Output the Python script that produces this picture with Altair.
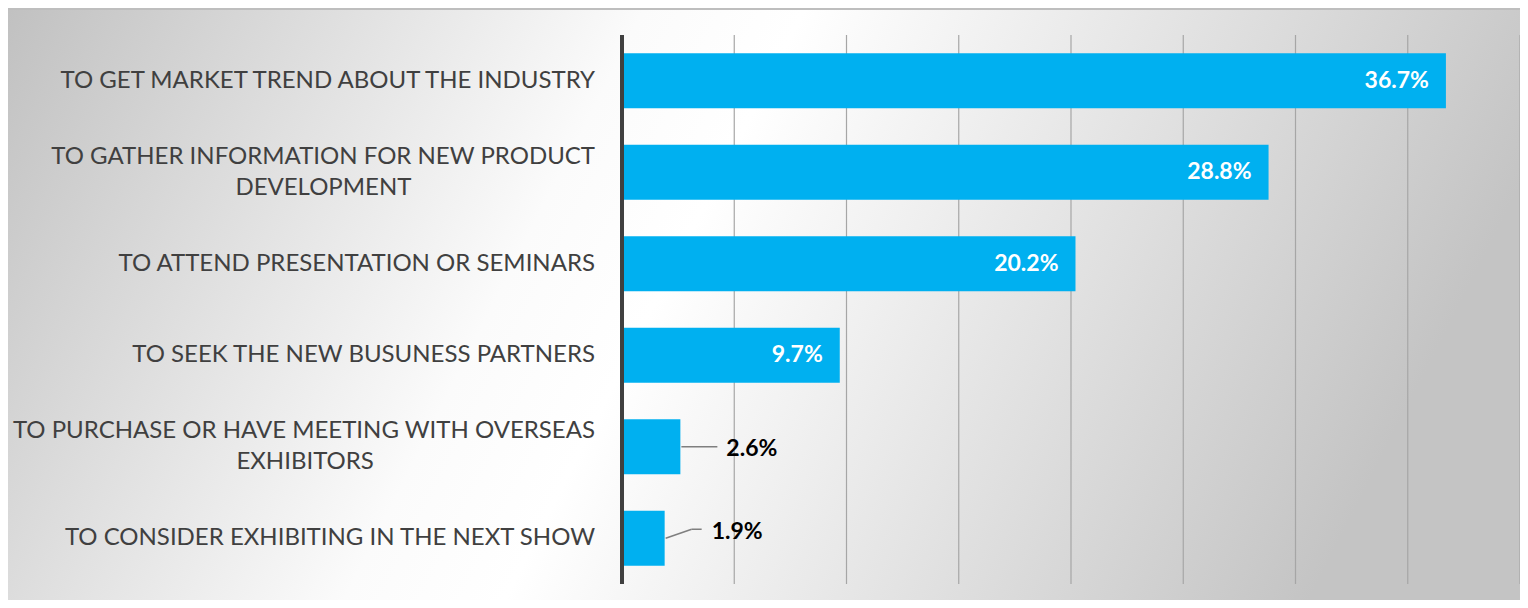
import altair as alt
import pandas as pd

NB = "\u00a0"
ZW = "\u200b"
# category labels, "|" marks a line break (second lines padded so they sit centred)
categories = [
    "TO GET MARKET TREND ABOUT THE INDUSTRY",
    "TO GATHER INFORMATION FOR NEW PRODUCT|DEVELOPMENT" + NB * 30 + ZW,
    "TO ATTEND PRESENTATION OR SEMINARS",
    "TO SEEK THE NEW BUSUNESS PARTNERS",
    "TO PURCHASE OR HAVE MEETING WITH OVERSEAS|EXHIBITORS" + NB * 36 + ZW,
    "TO CONSIDER EXHIBITING IN THE NEXT SHOW",
]
values = [36.7, 28.8, 20.2, 9.7, 2.6, 1.9]
grid_ticks = [5, 10, 15, 20, 25, 30, 35, 40]

df = pd.DataFrame({"category": categories, "value": values})
df["text"] = df["value"].map(lambda v: f"{v:.1f}%")
grid_df = pd.DataFrame({"tick": grid_ticks})

W, H = 898, 549
FONT = "Lato"
BLUE = "#00b0f0"

xscale = alt.Scale(domain=[0, 40], nice=False, zero=True)
yscale = alt.Scale(domain=categories, paddingInner=0.4, paddingOuter=0.2)
Y = alt.Y("category:N", scale=yscale, axis=None)

bg = alt.Chart(grid_df).mark_rect(
    color=alt.LinearGradient(
        gradient="linear",
        stops=[
            alt.GradientStop(color="#c0c0c0", offset=0),
            alt.GradientStop(color="#fbfbfb", offset=0.4),
            alt.GradientStop(color="#ffffff", offset=0.5),
            alt.GradientStop(color="#f0f0f0", offset=0.63),
            alt.GradientStop(color="#c4c4c4", offset=1),
        ],
        x1=0, x2=1, y1=0, y2=0.2,
    )
).encode(
    x=alt.value(-620), x2=alt.value(W + 30), y=alt.value(-30), y2=alt.value(H + 30)
)

topband = alt.Chart(grid_df).mark_rect(color="#bebebe").encode(
    x=alt.value(-620), x2=alt.value(W + 30), y=alt.value(-30), y2=alt.value(-25)
)

grid = alt.Chart(grid_df).mark_rule(color="#a6a6a6", strokeWidth=1.2).encode(
    x=alt.X("tick:Q", scale=xscale, axis=None), y=alt.value(0), y2=alt.value(H)
)

bars = alt.Chart(df).mark_bar(color=BLUE).encode(
    x=alt.X("value:Q", scale=xscale, axis=None),
    y=Y,
)

axisline = alt.Chart(grid_df).mark_rule(color="#404040", strokeWidth=3).encode(
    x=alt.value(0), y=alt.value(0), y2=alt.value(H)
)

labels1 = alt.Chart(df).transform_filter(
    "indexof(datum.category, '|') < 0"
).mark_text(
    align="right", baseline="middle",
    font=FONT, fontSize=24, color="#404040",
).encode(x=alt.value(-27), y=Y, text="category:N")

labels2 = alt.Chart(df).transform_filter(
    "indexof(datum.category, '|') >= 0"
).transform_calculate(
    lines="split(datum.category, '|')"
).mark_text(
    align="right", baseline="middle", lineHeight=31, dy=-15.5,
    font=FONT, fontSize=24, color="#404040",
).encode(x=alt.value(-27), y=Y, text="lines:N")

inside = alt.Chart(df).transform_filter("datum.value >= 5").mark_text(
    align="right", baseline="middle", dx=-17, font=FONT, fontWeight="bold",
    fontSize=23, color="white",
).encode(x=alt.X("value:Q", scale=xscale), y=Y, text="text:N")

c5 = categories[4]
c6 = categories[5]

out1 = alt.Chart(df).transform_filter(alt.datum.category == c5).mark_text(
    align="left", baseline="middle", dx=46, dy=2, font=FONT, fontWeight="bold",
    fontSize=23, color="black",
).encode(x=alt.X("value:Q", scale=xscale), y=Y, text="text:N")

out2 = alt.Chart(df).transform_filter(alt.datum.category == c6).mark_text(
    align="left", baseline="middle", dx=47, dy=-6, font=FONT, fontWeight="bold",
    fontSize=23, color="black",
).encode(x=alt.X("value:Q", scale=xscale), y=Y, text="text:N")

lead1 = alt.Chart(df).transform_filter(alt.datum.category == c5).mark_rule(
    color="#7f7f7f", strokeWidth=1.5, xOffset=1, x2Offset=37
).encode(x=alt.X("value:Q", scale=xscale), x2="value:Q", y=Y)

lead2a = alt.Chart(df).transform_filter(alt.datum.category == c6).mark_rule(
    color="#7f7f7f", strokeWidth=1.5, xOffset=1, x2Offset=27, y2Offset=-9
).encode(x=alt.X("value:Q", scale=xscale), x2="value:Q", y=Y, y2="category:N")

lead2b = alt.Chart(df).transform_filter(alt.datum.category == c6).mark_rule(
    color="#7f7f7f", strokeWidth=1.5, xOffset=27, x2Offset=37, yOffset=-9
).encode(x=alt.X("value:Q", scale=xscale), x2="value:Q", y=Y)

chart = alt.layer(
    bg, topband, grid, bars, axisline, labels1, labels2, inside, out1, out2,
    lead1, lead2a, lead2b
).properties(
    width=W, height=H,
    autosize=alt.AutoSizeParams(type="none"),
    padding={"left": 614, "top": 27, "right": 0, "bottom": 16},
).configure_view(stroke=None)

chart.save("out.html", embed_options={"renderer": "svg", "actions": False})
